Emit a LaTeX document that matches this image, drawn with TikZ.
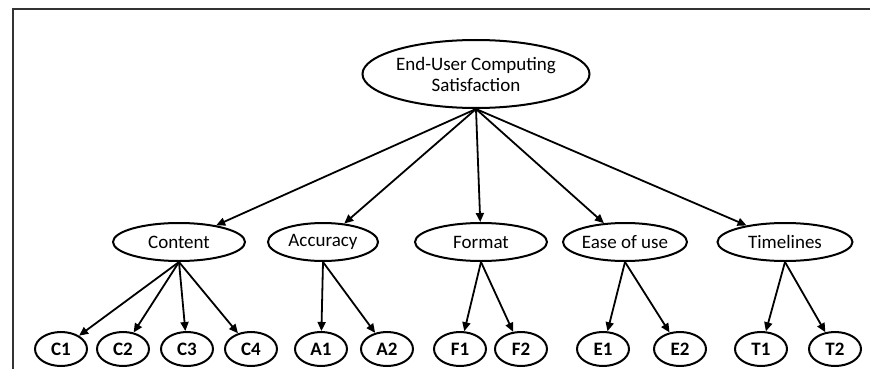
\documentclass[tikz,border=0pt]{standalone}
\usepackage{fontspec}
\setmainfont{Carlito}
\usetikzlibrary{shapes.geometric,arrows.meta}
\begin{document}
\begin{tikzpicture}[x=1pt,y=-1pt,
  construct/.style={draw,ellipse,line width=2pt,inner sep=0pt,
    font=\fontsize{19}{21}\selectfont,align=center},
  item/.style={draw,ellipse,line width=2pt,inner sep=0pt,
    minimum width=52pt,minimum height=34pt,font=\fontsize{19}{21}\selectfont\bfseries},
  link/.style={line width=1.8pt,-{Triangle[length=9pt,width=8pt]}}]
\useasboundingbox (0,0) rectangle (870,369);
% frame
\draw[line width=2.4pt,black!80] (13,369) -- (13,9) -- (870,9);
% root
\node[construct,minimum width=227pt,minimum height=68pt] (root) at (476,74)
  {End-User Computing\\Satisfaction};
% dimensions
\node[construct,minimum width=132pt,minimum height=38pt] (content) at (179,242) {Content};
\node[construct,minimum width=110pt,minimum height=38pt] (accuracy) at (323,242) {Accuracy};
\node[construct,minimum width=132pt,minimum height=38pt] (format) at (481,242) {Format};
\node[construct,minimum width=124pt,minimum height=38pt] (ease) at (625,242) {Ease of use};
\node[construct,minimum width=135pt,minimum height=38pt] (time) at (785,242) {Timelines};
% items
\node[item] (c1) at (61,349) {C1};
\node[item] (c2) at (123,349) {C2};
\node[item] (c3) at (187,349) {C3};
\node[item] (c4) at (251,349) {C4};
\node[item] (a1) at (321,349) {A1};
\node[item] (a2) at (387,349) {A2};
\node[item] (f1) at (460,349) {F1};
\node[item] (f2) at (521,349) {F2};
\node[item] (e1) at (603,349) {E1};
\node[item] (e2) at (680,349) {E2};
\node[item] (t1) at (761,349) {T1};
\node[item] (t2) at (835,349) {T2};
% connectors
\foreach \n in {content,accuracy,format,ease,time}
  \draw[link] (root.south) -- (\n);
\foreach \n in {c1,c2,c3,c4} \draw[link] (content.south) -- (\n);
\foreach \n in {a1,a2} \draw[link] (accuracy.south) -- (\n);
\foreach \n in {f1,f2} \draw[link] (format.south) -- (\n);
\foreach \n in {e1,e2} \draw[link] (ease.south) -- (\n);
\foreach \n in {t1,t2} \draw[link] (time.south) -- (\n);
\end{tikzpicture}
\end{document}
